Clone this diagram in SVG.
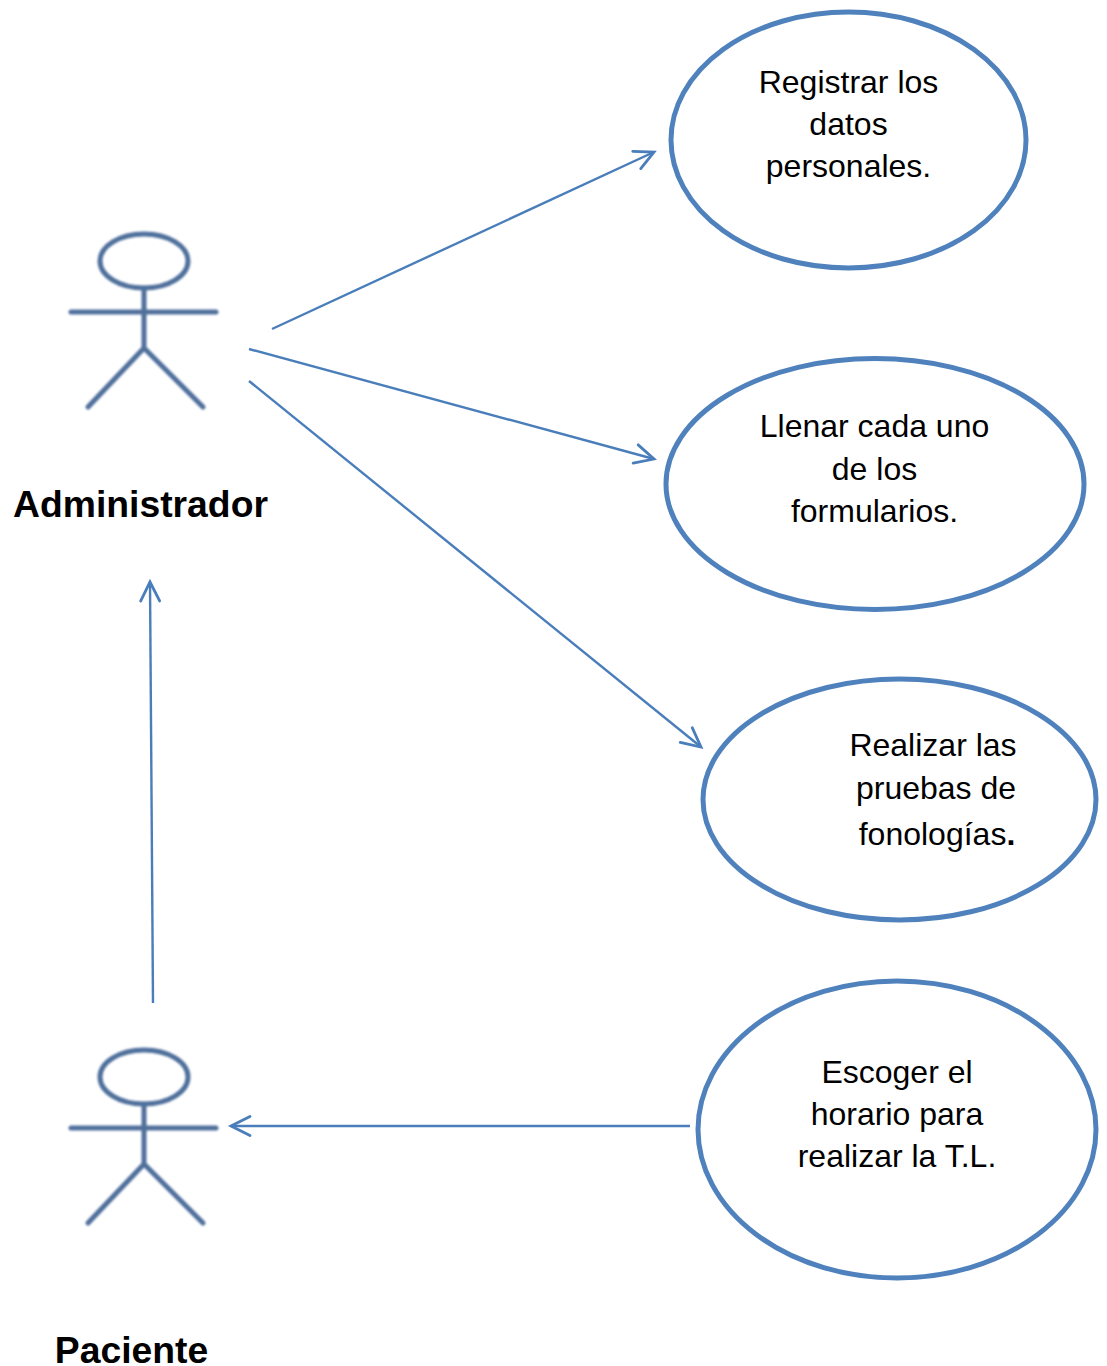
<svg xmlns="http://www.w3.org/2000/svg" width="1107" height="1366" viewBox="0 0 1107 1366">
<style>
.bg{fill:#fff}
.uc{fill:#fff;stroke:#4f81bd;stroke-width:5}
.t{font-family:"Liberation Sans",Arial,sans-serif;font-size:32px;fill:#000;text-anchor:middle}
.b{font-family:"Liberation Sans",Arial,sans-serif;font-size:37.300px;font-weight:bold;fill:#000;text-anchor:middle}
.c{fill:none;stroke:#4a7ebb;stroke-width:2.400}
.actor{fill:none;stroke:#4f6f9b;stroke-width:5;stroke-linecap:round}
</style>
<defs>
<filter id="blur" x="-10%" y="-10%" width="120%" height="120%"><feGaussianBlur stdDeviation="1.100"/></filter>
<marker id="arrow" markerUnits="userSpaceOnUse" markerWidth="24" markerHeight="24" refX="20" refY="12" orient="auto" overflow="visible"><path d="M1,2.500 L20,12 L1,21.500" fill="none" stroke="#4a7ebb" stroke-width="2.800" stroke-linecap="round"/></marker>
<g id="stick">
<ellipse cx="144" cy="261" rx="44" ry="27"/>
<path d="M144,288 V348 M71,312 H216 M144,348 L88,407 M144,348 L203,407"/>
</g>
</defs>
<rect class="bg" width="1107" height="1366"/>
<g id="connectors">
<path class="c" marker-end="url(#arrow)" d="M272,329 L654,152"/>
<path class="c" marker-end="url(#arrow)" d="M249,349 L654,459"/>
<path class="c" marker-end="url(#arrow)" d="M249,381 L701,747"/>
<path class="c" marker-end="url(#arrow)" d="M153,1003 L150,582"/>
<path class="c" marker-end="url(#arrow)" d="M690,1126 L231,1126"/>
</g>
<g id="actor-administrador">
<use href="#stick" class="actor" filter="url(#blur)"/>
<text class="b" x="140.500" y="517">Administrador</text>
</g>
<g id="actor-paciente">
<use href="#stick" class="actor" y="816" filter="url(#blur)"/>
<text class="b" x="131.500" y="1363">Paciente</text>
</g>
<g id="uc-registrar">
<ellipse class="uc" cx="848.500" cy="140" rx="177.500" ry="128"/>
<text class="t" x="848.500" y="93">Registrar los</text>
<text class="t" x="848.500" y="135">datos</text>
<text class="t" x="848.500" y="177">personales.</text>
</g>
<g id="uc-llenar">
<ellipse class="uc" cx="875" cy="484" rx="209" ry="125.500"/>
<text class="t" x="874.500" y="437">Llenar cada uno</text>
<text class="t" x="874.500" y="480">de los</text>
<text class="t" x="874.500" y="522">formularios.</text>
</g>
<g id="uc-realizar">
<ellipse class="uc" cx="899.500" cy="799.500" rx="196.500" ry="120.500"/>
<text class="t" x="933" y="756">Realizar las</text>
<text class="t" x="936" y="799">pruebas de</text>
<text class="t" x="937" y="845">fonologías<tspan font-weight="bold">.</tspan></text>
</g>
<g id="uc-escoger">
<ellipse class="uc" cx="897" cy="1129.500" rx="199" ry="148.500"/>
<text class="t" x="897" y="1083">Escoger el</text>
<text class="t" x="897" y="1125">horario para</text>
<text class="t" x="897" y="1167">realizar la T.L.</text>
</g>
</svg>
